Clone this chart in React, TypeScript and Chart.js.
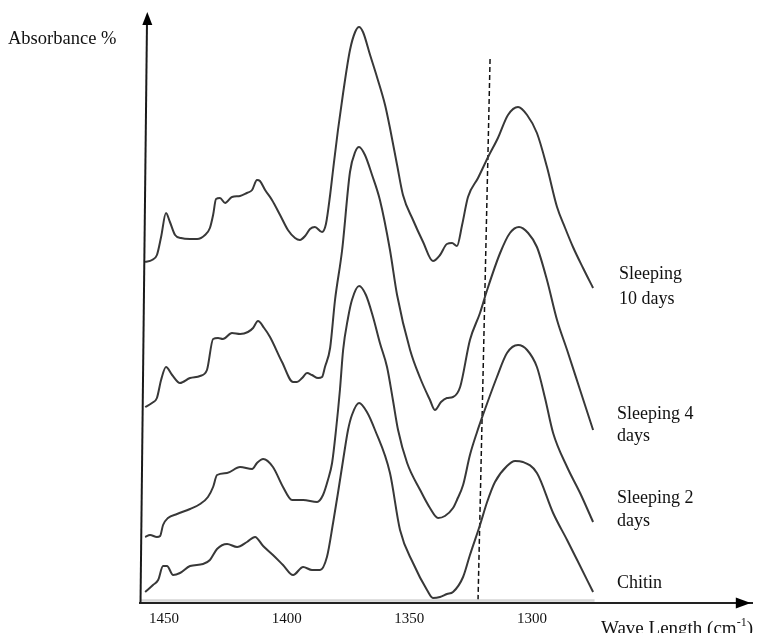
import React, { useEffect, useRef } from "react";
import { Chart, registerables } from "chart.js";

Chart.register(...registerables);

// Tick labels of the wave-number axis (cm-1)
const xTickValues = [1450, 1400, 1350, 1300];

// Sleeping 10 days
const tenDaysX = [1457.7, 1454.9, 1452.9, 1451.2, 1449.2, 1447.6, 1445.5, 1443.1, 1439.4, 1436.5, 1433.3, 1431.3, 1430.0, 1428.8, 1427.2, 1425.1, 1422.3, 1419.0, 1416.2, 1414.1, 1412.1, 1410.9, 1408.8, 1406.0, 1402.7, 1399.5, 1396.6, 1394.6, 1392.5, 1390.5, 1388.5, 1385.6, 1384.0, 1382.3, 1381.1, 1379.1, 1377.0, 1374.2, 1372.1, 1370.5, 1368.9, 1366.0, 1363.2, 1359.9, 1357.9, 1355.0, 1352.6, 1348.5, 1344.4, 1340.4, 1337.5, 1334.7, 1332.6, 1330.6, 1328.5, 1326.1, 1322.0, 1317.9, 1313.9, 1309.8, 1305.7, 1302.0, 1298.0, 1293.9, 1289.8, 1286.5, 1283.3, 1279.2, 1275.1];
const tenDaysY = [3.41, 3.43, 3.48, 3.66, 3.90, 3.81, 3.68, 3.65, 3.64, 3.64, 3.68, 3.75, 3.88, 4.04, 4.05, 4.00, 4.06, 4.07, 4.10, 4.13, 4.23, 4.22, 4.13, 4.03, 3.88, 3.73, 3.65, 3.63, 3.67, 3.74, 3.76, 3.71, 3.79, 4.08, 4.33, 4.73, 5.10, 5.53, 5.71, 5.76, 5.71, 5.48, 5.26, 4.98, 4.75, 4.38, 4.08, 3.83, 3.61, 3.42, 3.48, 3.59, 3.60, 3.57, 3.78, 4.06, 4.25, 4.46, 4.65, 4.88, 4.96, 4.88, 4.70, 4.36, 3.96, 3.75, 3.56, 3.35, 3.15];

// Sleeping 4 days
const fourDaysX = [1457.7, 1454.9, 1452.9, 1451.2, 1449.2, 1446.7, 1443.5, 1439.4, 1435.3, 1432.5, 1430.0, 1428.0, 1426.0, 1422.3, 1419.0, 1415.8, 1413.7, 1411.7, 1409.2, 1406.8, 1401.9, 1397.4, 1395.8, 1393.7, 1391.7, 1389.7, 1387.2, 1385.6, 1384.4, 1382.3, 1380.3, 1377.4, 1374.2, 1372.1, 1370.5, 1368.1, 1365.2, 1362.0, 1357.9, 1355.0, 1349.7, 1345.6, 1341.6, 1339.6, 1337.1, 1334.7, 1332.2, 1329.3, 1325.3, 1321.2, 1318.3, 1313.0, 1309.0, 1305.3, 1301.6, 1298.0, 1293.9, 1289.8, 1285.7, 1280.4, 1275.1];
const fourDaysY = [1.96, 2.00, 2.05, 2.23, 2.36, 2.28, 2.20, 2.25, 2.27, 2.33, 2.64, 2.65, 2.64, 2.70, 2.69, 2.71, 2.75, 2.82, 2.75, 2.66, 2.41, 2.21, 2.21, 2.25, 2.30, 2.28, 2.25, 2.26, 2.36, 2.55, 3.03, 3.53, 4.31, 4.51, 4.56, 4.48, 4.28, 4.03, 3.53, 3.08, 2.53, 2.25, 2.03, 1.93, 2.01, 2.05, 2.06, 2.16, 2.63, 2.90, 3.13, 3.50, 3.70, 3.76, 3.70, 3.56, 3.23, 2.83, 2.53, 2.13, 1.73];

// Sleeping 2 days
const twoDaysX = [1457.7, 1455.7, 1452.9, 1451.6, 1450.4, 1448.4, 1444.7, 1439.4, 1435.3, 1432.1, 1430.0, 1428.4, 1424.3, 1419.0, 1414.1, 1412.1, 1409.6, 1405.6, 1401.5, 1397.8, 1393.3, 1387.6, 1385.2, 1383.2, 1381.5, 1379.9, 1378.3, 1377.0, 1375.0, 1373.4, 1370.5, 1367.7, 1364.8, 1362.0, 1359.1, 1356.7, 1354.6, 1350.9, 1345.6, 1341.6, 1338.3, 1335.5, 1332.2, 1330.6, 1328.1, 1325.3, 1322.4, 1320.0, 1314.3, 1310.2, 1305.7, 1302.0, 1298.0, 1294.7, 1291.4, 1285.7, 1280.4, 1275.1];
const twoDaysY = [0.66, 0.68, 0.66, 0.67, 0.78, 0.85, 0.89, 0.94, 0.99, 1.06, 1.16, 1.28, 1.30, 1.36, 1.34, 1.40, 1.44, 1.36, 1.16, 1.03, 1.03, 1.01, 1.08, 1.23, 1.40, 1.73, 2.13, 2.53, 2.85, 3.03, 3.17, 3.08, 2.86, 2.60, 2.36, 2.03, 1.73, 1.40, 1.13, 0.95, 0.85, 0.87, 0.95, 1.03, 1.18, 1.48, 1.71, 1.88, 2.26, 2.50, 2.58, 2.53, 2.36, 2.05, 1.70, 1.36, 1.10, 0.81];

// Chitin
const chitinX = [1457.7, 1454.5, 1452.4, 1450.4, 1448.8, 1446.3, 1443.5, 1439.4, 1434.1, 1431.3, 1428.4, 1424.3, 1420.2, 1416.2, 1412.9, 1409.6, 1405.6, 1401.5, 1397.4, 1393.3, 1389.7, 1386.4, 1383.6, 1381.1, 1379.1, 1377.0, 1375.0, 1373.4, 1370.5, 1367.3, 1364.0, 1357.9, 1353.8, 1348.5, 1342.8, 1340.4, 1337.5, 1334.7, 1332.2, 1328.1, 1325.3, 1321.2, 1318.3, 1315.1, 1310.2, 1306.9, 1303.7, 1298.0, 1291.4, 1285.7, 1281.6, 1275.1];
const chitinY = [0.11, 0.18, 0.23, 0.37, 0.37, 0.28, 0.30, 0.37, 0.39, 0.43, 0.54, 0.59, 0.56, 0.61, 0.66, 0.57, 0.48, 0.38, 0.28, 0.36, 0.33, 0.33, 0.46, 0.80, 1.10, 1.43, 1.73, 1.88, 2.00, 1.91, 1.73, 1.30, 0.73, 0.40, 0.13, 0.05, 0.06, 0.09, 0.11, 0.26, 0.48, 0.78, 1.01, 1.21, 1.37, 1.42, 1.41, 1.30, 0.90, 0.63, 0.43, 0.11];

// Dashed reference line
const refLineX = [1317.1, 1322.0];
const refLineY = [5.44, 0.03];

// Faint baseline under the spectra
const baseLineX = [1459.5, 1274.5];
const baseLineY = [0.025, 0.025];

const toPoints = (xs: number[], ys: number[]) => xs.map((x, i) => ({ x, y: ys[i] }));

const SERIF = "'Liberation Serif', 'Times New Roman', serif";

const decorPlugin = {
  id: "decor",
  afterDraw(chart: any) {
    const { ctx, chartArea } = chart;
    const { left, right, top, bottom } = chartArea;
    ctx.save();
    // y axis (slightly slanted like the hand-drawn original)
    ctx.strokeStyle = "#1a1a1a";
    ctx.lineWidth = 2;
    ctx.beginPath();
    ctx.moveTo(left + 1, bottom);
    ctx.lineTo(left + 7.5, top + 8);
    ctx.stroke();
    ctx.fillStyle = "#000";
    ctx.beginPath();
    ctx.moveTo(left + 7.8, top - 1);
    ctx.lineTo(left + 2.8, top + 12);
    ctx.lineTo(left + 12.8, top + 12);
    ctx.closePath();
    ctx.fill();
    // x axis arrow head
    ctx.beginPath();
    ctx.moveTo(right - 2, bottom);
    ctx.lineTo(right - 17, bottom - 5.5);
    ctx.lineTo(right - 17, bottom + 5.5);
    ctx.closePath();
    ctx.fill();

    // texts
    ctx.fillStyle = "#111";
    ctx.textBaseline = "alphabetic";
    ctx.textAlign = "left";
    ctx.font = `18.5px ${SERIF}`;
    ctx.fillText("Absorbance %", 8, 44);

    ctx.font = `18px ${SERIF}`;
    const labels: [string, number, number][] = [
      ["Sleeping", 619, 279],
      ["10 days", 619, 304],
      ["Sleeping 4", 617, 419],
      ["days", 617, 441],
      ["Sleeping 2", 617, 503],
      ["days", 617, 526],
      ["Chitin", 617, 588],
    ];
    labels.forEach(([t, x, y]) => ctx.fillText(t, x, y));

    // axis title with superscript
    const base = 634;
    let x = 601;
    ctx.font = `19px ${SERIF}`;
    ctx.fillText("Wave Length (cm", x, base);
    x += ctx.measureText("Wave Length (cm").width;
    ctx.font = `12px ${SERIF}`;
    ctx.fillText("-1", x, base - 8);
    x += ctx.measureText("-1").width;
    ctx.font = `19px ${SERIF}`;
    ctx.fillText(")", x, base);
    ctx.restore();
  },
};

export default function App() {
  const canvasRef = useRef<HTMLCanvasElement | null>(null);

  useEffect(() => {
    if (!canvasRef.current) return;
    const curveStyle = {
      borderColor: "#383838",
      borderWidth: 2,
      pointRadius: 0,
      cubicInterpolationMode: "monotone" as const,
      fill: false,
    };
    const chart = new Chart(canvasRef.current, {
      type: "line",
      data: {
        datasets: [
          { label: "baseline", data: toPoints(baseLineX, baseLineY), borderColor: "#d6d6d6", borderWidth: 2.5, pointRadius: 0, tension: 0 },
          { label: "Sleeping 10 days", data: toPoints(tenDaysX, tenDaysY), ...curveStyle },
          { label: "Sleeping 4 days", data: toPoints(fourDaysX, fourDaysY), ...curveStyle },
          { label: "Sleeping 2 days", data: toPoints(twoDaysX, twoDaysY), ...curveStyle },
          { label: "Chitin", data: toPoints(chitinX, chitinY), ...curveStyle },
          { label: "reference", data: toPoints(refLineX, refLineY), borderColor: "#111", borderWidth: 1.5, borderDash: [5, 3], pointRadius: 0, tension: 0 },
        ],
      },
      options: {
        responsive: false,
        animation: false,
        devicePixelRatio: 1,
        layout: { padding: { left: 139.5, right: 27.2, top: 13, bottom: -2 } },
        plugins: { legend: { display: false }, tooltip: { enabled: false } },
        scales: {
          x: {
            type: "linear",
            reverse: true,
            min: 1210,
            max: 1460,
            afterBuildTicks: (scale: any) => {
              scale.ticks = xTickValues.map((v) => ({ value: v }));
            },
            grid: { display: false, drawTicks: false },
            border: { display: true, color: "#222", width: 2 },
            ticks: {
              color: "#111",
              padding: 7,
              autoSkip: false,
              maxRotation: 0,
              font: { family: SERIF, size: 15 },
              callback: (v: any) => String(v),
            },
          },
          y: { type: "linear", min: 0, max: 5.9, display: false },
        },
      },
      plugins: [decorPlugin],
    });
    return () => chart.destroy();
  }, []);

  return (
    <div style={{ position: "fixed", left: 0, top: 0, width: 780, height: 633, background: "#fff" }}>
      <canvas ref={canvasRef} width={780} height={633} style={{ width: 780, height: 633, display: "block" }} />
    </div>
  );
}
